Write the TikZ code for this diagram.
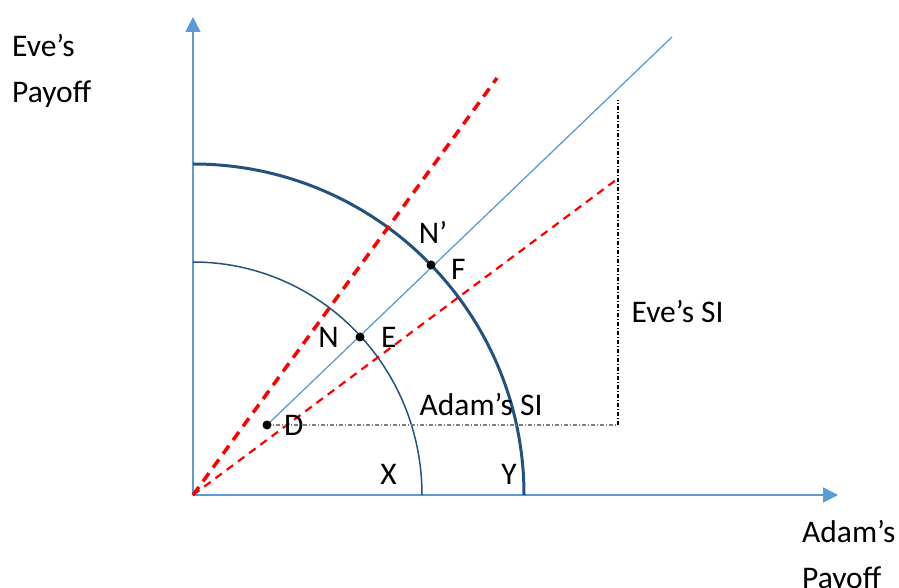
\documentclass[tikz,border=0pt]{standalone}
\usepackage{fontspec}
\setmainfont{Carlito}
\usetikzlibrary{arrows.meta,positioning}
\definecolor{AxisBlue}{HTML}{5B9BD5}
\definecolor{ArcBlue}{HTML}{24527F}
\definecolor{SIGrey}{HTML}{7F7F7F}

\begin{document}
\begin{tikzpicture}[
  x=1pt,y=1pt,
  every node/.style={font=\fontsize{31.5}{46}\selectfont,text=black},
  lbl/.style={inner sep=1pt},
  axis/.style={-{Triangle[length=15pt,width=15pt]},AxisBlue,line width=1.5pt},
  frontier/.style={ArcBlue},
  ray/.style={red,dash pattern=on 10pt off 7pt},
  si/.style={line width=1.2pt,dash pattern=on 4pt off 2pt on 1pt off 2pt},
  dot/.style={circle,fill=black,inner sep=0pt,minimum size=9pt}
]
\useasboundingbox (-193,-93) rectangle (706,495);
\coordinate (O) at (0,0);
\coordinate (xend) at (645,0);
\coordinate (yend) at (0,478);
\coordinate (X) at (229,0);
\coordinate (Y) at (331,0);
\coordinate (D) at (74,70);
\coordinate (E) at (167,158);
\coordinate (F) at (238,230);
\coordinate (T) at (479,458);
\coordinate (R1) at (304,417);
\coordinate (R2) at (423,315);
\coordinate (V) at (425,395);
\coordinate (C) at (D -| V);

% axes
\draw[axis] (O) -- (yend);
\draw[axis] (O) -- (xend);
\node[lbl,anchor=north west,align=left] (eve) at (-182,462) {Eve’s\\Payoff};
\node[lbl,anchor=north west,align=left] (adam) at (608,-24) {Adam’s\\Payoff};

% frontiers
\draw[frontier,line width=1.5pt] (X) arc[start angle=0,end angle=90,x radius=229,y radius=233];
\draw[frontier,line width=3pt] (Y) arc[start angle=0,end angle=90,radius=331];
\node[lbl,above left=9pt and 24pt of X] (xlbl) {X};
\node[lbl,above left=9pt and 6pt of Y] (ylbl) {Y};

% rays
\draw[ray,line width=3.5pt] (O) -- (R1);
\draw[ray,line width=2.2pt,dash pattern=on 8pt off 6pt] (O) -- (R2);
\draw[AxisBlue,line width=1.3pt] (D) -- (T);

% SI
\draw[si,SIGrey] (D) -- node[lbl,pos=0.61,above=8pt] (asi) {Adam’s SI} (C);
\draw[si,black] (C) -- node[lbl,pos=0.35,right=12pt] (esi) {Eve’s SI} (V);

% points
\node[dot] (dotD) at (D) {};
\node[dot] (dotE) at (E) {};
\node[dot] (dotF) at (F) {};
\node[lbl,right=16pt of D] (dlbl) {D};
\node[lbl,right=20pt of E] (elbl) {E};
\node[lbl,left=20pt of E] (nlbl) {N};
\node[lbl,right=19pt of F,yshift=-4pt] (flbl) {F};
\node[lbl,above=20pt of F,xshift=2pt] (nplbl) {N’};
\end{tikzpicture}
\end{document}
